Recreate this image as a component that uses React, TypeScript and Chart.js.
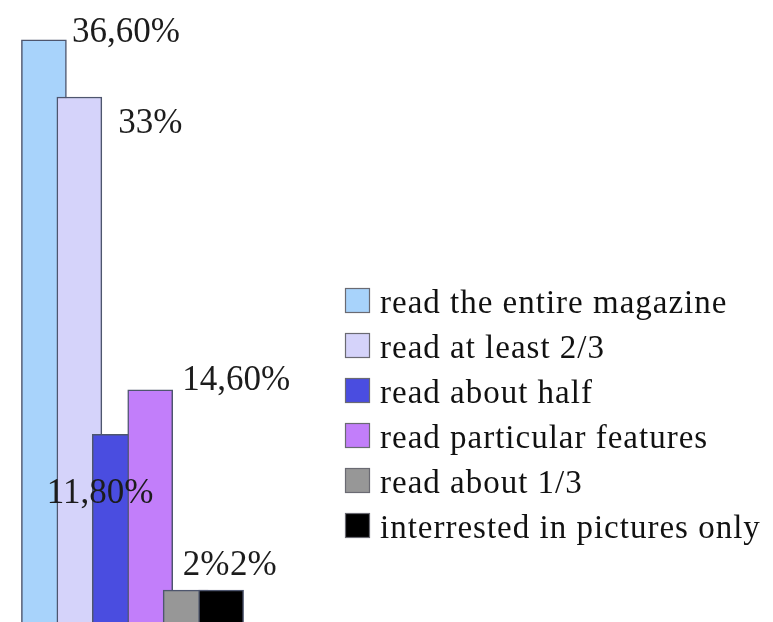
import React, { useEffect, useRef } from "react";
import { Chart, registerables } from "chart.js";

Chart.register(...registerables);

const categories = [
  "read the entire magazine",
  "read at least 2/3",
  "read about half",
  "read particular features",
  "read about 1/3",
  "interrested in pictures only",
];
const values = [36.6, 33, 11.8, 14.6, 2, 2];
const valueLabels = ["36,60%", "33%", "11,80%", "14,60%", "2%", "2%"];
const colors = ["#a8d3fb", "#d5d3fa", "#4a4de0", "#c27efa", "#979797", "#000000"];

// label placement relative to each bar (dx from bar centre to text start, dy from bar top to baseline)
const LABEL_OFFSETS: [number, number][] = [
  [28, 2],
  [39, 36],
  [-68, 69],
  [32, 0],
  [-3, -15],
  [9, -15],
];

const FONT_FAMILY = "'Liberation Serif', 'DejaVu Serif', serif";

const valueLabelPlugin = {
  id: "valueLabels",
  afterDatasetsDraw(chart: any) {
    const ctx = chart.ctx;
    const meta = chart.getDatasetMeta(0);
    ctx.save();
    ctx.font = `35px ${FONT_FAMILY}`;
    ctx.fillStyle = "#1c1c1c";
    ctx.textAlign = "left";
    ctx.textBaseline = "alphabetic";
    meta.data.forEach((bar: any, i: number) => {
      const [dx, dy] = LABEL_OFFSETS[i];
      ctx.fillText(valueLabels[i], bar.x + dx, bar.y + dy);
    });
    ctx.restore();
  },
};

const legendPlugin = {
  id: "customLegend",
  afterDraw(chart: any) {
    const ctx = chart.ctx;
    const left = 345;
    const top = 288;
    const box = 25;
    const step = 45;
    ctx.save();
    ctx.font = `33px ${FONT_FAMILY}`;
    (ctx as any).letterSpacing = "1px";
    ctx.textAlign = "left";
    ctx.textBaseline = "alphabetic";
    categories.forEach((cat, i) => {
      const y = top + i * step;
      ctx.fillStyle = colors[i];
      ctx.fillRect(left, y, box, box);
      ctx.strokeStyle = "#6a6a72";
      ctx.lineWidth = 1.2;
      ctx.strokeRect(left + 0.5, y + 0.5, box - 1, box - 1);
      ctx.fillStyle = "#111111";
      ctx.fillText(cat, left + 35, y + box);
    });
    ctx.restore();
  },
};

export default function App() {
  const canvasRef = useRef<HTMLCanvasElement | null>(null);

  useEffect(() => {
    if (!canvasRef.current) return;
    const chart = new Chart(canvasRef.current, {
      type: "bar",
      data: {
        labels: categories,
        datasets: [
          {
            data: values,
            backgroundColor: colors,
            borderColor: "#4e566e",
            borderWidth: 1.5,
            barThickness: 45,
            clip: false,
          } as any,
        ],
      },
      options: {
        responsive: false,
        animation: false,
        layout: { padding: { left: 26.2, right: 534.2, top: 0, bottom: 0 } },
        scales: {
          x: { display: false },
          y: { display: false, min: 0, max: 39.1 },
        },
        plugins: {
          legend: { display: false },
          tooltip: { enabled: false },
        },
      },
      plugins: [valueLabelPlugin, legendPlugin],
    });
    return () => chart.destroy();
  }, []);

  return (
    <div style={{ position: "absolute", left: 0, top: 0, width: 773, height: 622, background: "#ffffff" }}>
      <canvas ref={canvasRef} width={773} height={622} />
    </div>
  );
}
